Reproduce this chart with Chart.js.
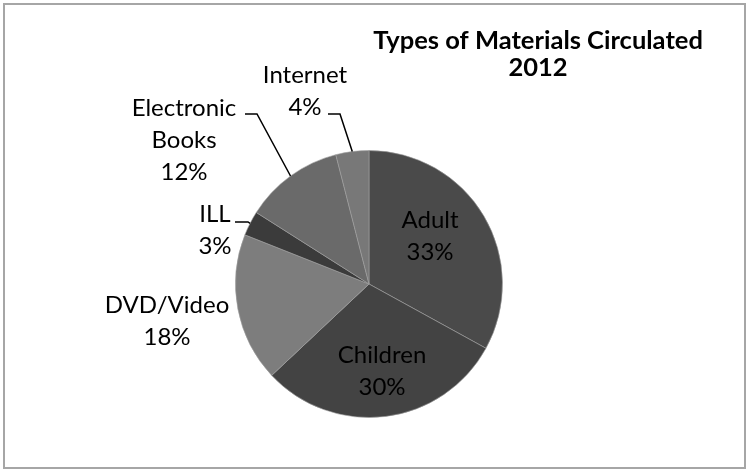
<!DOCTYPE html>
<html>
<head>
<meta charset="utf-8">
<script src="https://cdn.jsdelivr.net/npm/chart.js@4.4.1/dist/chart.umd.min.js"></script>
<style>
  html, body { margin: 0; padding: 0; background: #fff; }
  #wrap { position: relative; width: 748px; height: 470px; }
</style>
</head>
<body>
<div id="wrap"><canvas id="myChart" width="748" height="470"></canvas></div>
<script>
// datos del grafico
var categorias = ['Adult', 'Children', 'DVD/Video', 'ILL', 'Electronic Books', 'Internet'];
var porcentajes = [33, 30, 18, 3, 12, 4];
var colores = ['#4a4a4a', '#434343', '#7d7d7d', '#3b3b3b', '#6a6a6a', '#787878'];
var titulo = ['Types of Materials Circulated', '2012'];

// lineas de texto de cada etiqueta
var lineasEtiqueta = [
  ['Adult'], ['Children'], ['DVD/Video'], ['ILL'], ['Electronic', 'Books'], ['Internet']
];

// posicion de cada etiqueta (centro del primer renglon) y si lleva linea guia
var posEtiqueta = [
  { x: 430, y: 220, guia: false },
  { x: 382, y: 355, guia: false },
  { x: 167, y: 305, guia: false },
  { x: 215, y: 214, guia: true, codo: 248, finTexto: 235, yGuia: 222 },
  { x: 184, y: 108, guia: true, codo: 257, finTexto: 245, yGuia: 114 },
  { x: 305, y: 75, guia: true, codo: 340, finTexto: 328, yGuia: 114 }
];

var fuente = 'Lato, "Open Sans", sans-serif';
var alturaLinea = 32;

// Plugin para marco, titulo y etiquetas
var etiquetasPlugin = {
  id: 'etiquetas',
  beforeDraw: function (chart) {
    var c = chart.ctx;
    c.save();
    c.fillStyle = '#fff';
    c.fillRect(0, 0, chart.width, chart.height);
    c.strokeStyle = '#a6a6a6';
    c.lineWidth = 2;
    c.strokeRect(4, 4, 741, 464);
    c.restore();
  },
  afterDatasetsDraw: function (chart) {
    var c = chart.ctx;
    var meta = chart.getDatasetMeta(0);
    c.save();

    // titulo
    c.fillStyle = '#000';
    c.textAlign = 'center';
    c.textBaseline = 'middle';
    c.font = 'bold 25.5px ' + fuente;
    c.fillText(titulo[0], 538, 41);
    c.fillText(titulo[1], 538, 68);

    c.font = '24px ' + fuente;
    meta.data.forEach(function (arco, i) {
      var p = posEtiqueta[i];
      var lineas = lineasEtiqueta[i].concat([porcentajes[i] + '%']);
      lineas.forEach(function (t, k) {
        c.fillText(t, p.x, p.y + k * alturaLinea);
      });

      if (p.guia) {
        // punto medio del arco en el borde
        var ang = (arco.startAngle + arco.endAngle) / 2;
        var bx = arco.x + Math.cos(ang) * arco.outerRadius;
        var by = arco.y + Math.sin(ang) * arco.outerRadius;
        c.strokeStyle = '#000';
        c.lineWidth = 1.5;
        c.beginPath();
        c.moveTo(p.finTexto, p.yGuia);
        c.lineTo(p.codo, p.yGuia);
        c.lineTo(bx, by);
        c.stroke();
      }
    });
    c.restore();
  }
};

const ctx = document.getElementById('myChart').getContext('2d');
let myChart = new Chart(ctx, {
  type: 'pie',
  data: {
    labels: categorias,
    datasets: [{
      data: porcentajes,
      backgroundColor: colores,
      borderColor: 'rgba(160,160,160,0.6)',
      borderWidth: 1
    }]
  },
  options: {
    responsive: false,
    animation: false,
    layout: { padding: { left: 235, right: 245, top: 150, bottom: 52 } },
    plugins: {
      legend: { display: false },
      tooltip: { enabled: false },
      title: { display: false }
    }
  },
  plugins: [etiquetasPlugin]
});
</script>
</body>
</html>
